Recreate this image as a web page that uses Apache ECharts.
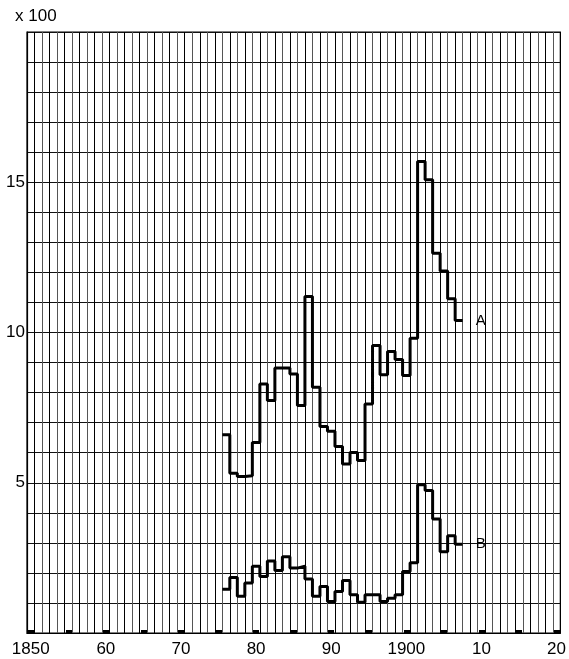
<!DOCTYPE html>
<html>
<head>
<meta charset="utf-8">
<script src="https://cdn.jsdelivr.net/npm/echarts@6/dist/echarts.min.js"></script>
<style>
html,body{margin:0;padding:0;background:#fff;}
#chart{width:569px;height:659px;}
</style>
</head>
<body>
<div id="chart"></div>
<script>
// Axis categories (one grid cell per year)
const axisYears = [];
for (let y = 1850; y <= 1920; y++) axisYears.push(y);

// Years of the two series
const years = [1876,1877,1878,1879,1880,1881,1882,1883,1884,1885,
               1886,1887,1888,1889,1890,1891,1892,1893,1894,1895,
               1896,1897,1898,1899,1900,1901,1902,1903,1904,1905,
               1906,1907];

// Series values (units, axis shows x 100)
const seriesA = [660,532,521,523,634,829,774,882,882,862,
                 757,1120,818,687,671,621,562,601,574,762,
                 957,859,937,910,857,981,1569,1508,1264,1205,
                 1112,1040];
const seriesB = [146,185,122,166,222,188,240,208,254,216,
                 222,180,122,155,105,138,175,127,102,127,
                 127,105,116,127,205,234,493,474,379,270,
                 324,295];

const yTickLabels = {500: '5', 1000: '10', 1500: '15'};
const seriesNames = ['A', 'B'];

function stepPoints(vals) {
  const pts = years.map((y, i) => [y - 0.5, vals[i]]);
  pts.push([years[years.length - 1] + 0.5, vals[vals.length - 1]]);
  return pts;
}

const FONT = 'Liberation Sans, Arial, Helvetica, sans-serif';
const chart = echarts.init(document.getElementById('chart'), null, {renderer: 'canvas'});

function makeSeries(name, vals) {
  return {
    name: name,
    type: 'line',
    xAxisIndex: 1,
    step: 'end',
    symbol: 'none',
    animation: false,
    data: stepPoints(vals),
    lineStyle: {color: '#000', width: 3},
    endLabel: {
      show: true,
      formatter: name,
      distance: 13,
      color: '#000',
      fontSize: 15,
      fontFamily: FONT
    }
  };
}

chart.setOption({
  animation: false,
  backgroundColor: '#fff',
  grid: {left: 27, right: 6, top: 32, bottom: 26, show: true, borderColor: '#000', borderWidth: 1.2, containLabel: false},
  xAxis: [
    {
      type: 'category',
      data: axisYears,
      boundaryGap: true,
      axisLine: {show: true, lineStyle: {color: '#000', width: 1.2}},
      axisTick: {
        show: true,
        inside: true,
        alignWithLabel: true,
        length: 3,
        interval: function (idx) { return idx % 5 === 0; },
        lineStyle: {color: '#000', width: 6}
      },
      axisLabel: {
        interval: function (idx, val) { return (+val) % 10 === 0; },
        formatter: function (val) {
          const v = +val;
          return (v === 1850 || v === 1900) ? String(v) : String(v % 100).padStart(2, '0');
        },
        color: '#000',
        fontSize: 17,
        fontFamily: FONT,
        margin: 8
      },
      splitLine: {show: true, interval: 0, lineStyle: {color: ['#555', '#000'], width: 1}}
    },
    {
      type: 'value',
      min: 1849.5,
      max: 1920.5,
      show: false,
      splitLine: {show: false}
    }
  ],
  yAxis: {
    type: 'value',
    min: 0,
    max: 2000,
    interval: 100,
    axisLine: {show: true, lineStyle: {color: '#000', width: 1.2}},
    axisTick: {show: false},
    axisLabel: {
      formatter: function (v) { return yTickLabels[v] || ''; },
      color: '#000',
      fontSize: 17,
      fontFamily: FONT,
      margin: 2
    },
    splitLine: {show: true, lineStyle: {color: '#111', width: 1}}
  },
  graphic: [{
    type: 'text',
    left: 15,
    top: 8,
    style: {text: 'x 100', fill: '#000', fontSize: 17, fontFamily: FONT}
  }],
  series: [makeSeries(seriesNames[0], seriesA), makeSeries(seriesNames[1], seriesB)]
});
</script>
</body>
</html>
